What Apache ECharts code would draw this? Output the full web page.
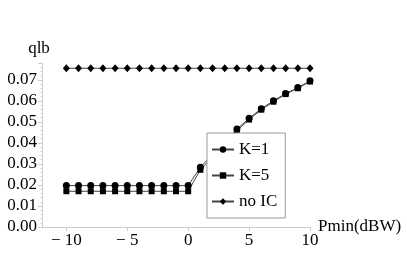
<!DOCTYPE html>
<html><head><meta charset="utf-8">
<script src="https://cdn.jsdelivr.net/npm/echarts@6/dist/echarts.min.js"></script>
<style>html,body{margin:0;padding:0;background:#fff}#c{width:407px;height:253px}</style>
</head><body><div id="c"></div>
<script>
const xValues = [-10,-9,-8,-7,-6,-5,-4,-3,-2,-1,0,1,2,3,4,5,6,7,8,9,10];
const k1 = [0.0197,0.0197,0.0197,0.0197,0.0197,0.0197,0.0197,0.0197,0.0197,0.0197,0.0197,0.0284,0.0345,0.0405,0.0466,0.0517,0.0563,0.0600,0.0635,0.0663,0.0695];
const k5 = [0.0170,0.0170,0.0170,0.0170,0.0170,0.0170,0.0170,0.0170,0.0170,0.0170,0.0170,0.0272,0.0335,0.0397,0.0458,0.0511,0.0558,0.0596,0.0632,0.0660,0.0692];
const noIC = [0.0755,0.0755,0.0755,0.0755,0.0755,0.0755,0.0755,0.0755,0.0755,0.0755,0.0755,0.0755,0.0755,0.0755,0.0755,0.0755,0.0755,0.0755,0.0755,0.0755,0.0755];
const xTicks = [-10,-5,0,5,10];
const seriesNames = ['K=1','K=5','no IC'];

const font = 'Liberation Serif';
const pair = arr => xValues.map((x,i)=>[x,arr[i]]);
const chart = echarts.init(document.getElementById('c'));
const lineStyle = {color:'#444', width:1};
chart.setOption({
  animation:false,
  grid:{left:42,right:97,top:63,bottom:26,outerBoundsMode:'none',containLabel:false},
  legend:{
    orient:'vertical', left:207, top:133, width:80,
    backgroundColor:'#fff', borderColor:'#999', borderWidth:1,
    padding:[8,8,8,4], itemGap:9, itemWidth:22, itemHeight:8,
    textStyle:{fontFamily:font,fontSize:17,color:'#000'},
    data:seriesNames
  },
  xAxis:{
    type:'value', min:-12, max:10,
    name:'Pmin(dBW)', nameLocation:'end', nameGap:8, nameMoveOverlap:false,
    nameTextStyle:{fontFamily:font,fontSize:17,color:'#000',padding:[0,0,6,0]},
    axisLine:{show:true,onZero:false,lineStyle:{color:'#ccc'}},
    axisTick:{show:true,customValues:xTicks,length:4,lineStyle:{color:'#ccc'}},
    axisLabel:{customValues:xTicks,fontFamily:font,fontSize:17,color:'#000',margin:5,
      formatter:v=>v<0?'\u2212 '+Math.abs(v):String(v)},
    splitLine:{show:false}
  },
  yAxis:{
    type:'value', min:0, max:0.078, interval:0.01,
    name:'qlb', nameLocation:'end', nameGap:6, nameMoveOverlap:false,
    nameTextStyle:{fontFamily:font,fontSize:17,color:'#000',align:'center',padding:[0,6,0,0]},
    axisLine:{show:true,onZero:false,lineStyle:{color:'#ccc'}},
    axisTick:{show:true,length:4,lineStyle:{color:'#ccc'}},
    minorTick:{show:true,splitNumber:5,length:2,lineStyle:{color:'#e0e0e0'}},
    axisLabel:{fontFamily:font,fontSize:17,color:'#000',margin:5,showMaxLabel:false,
      formatter:v=>v.toFixed(2)},
    splitLine:{show:false}
  },
  series:[
    {name:seriesNames[0],type:'line',data:pair(k1),symbol:'circle',symbolSize:7,
     itemStyle:{color:'#000'},lineStyle:lineStyle},
    {name:seriesNames[1],type:'line',data:pair(k5),symbol:'rect',symbolSize:6,
     itemStyle:{color:'#000'},lineStyle:lineStyle},
    {name:seriesNames[2],type:'line',data:pair(noIC),symbol:'diamond',symbolSize:[7,8],
     itemStyle:{color:'#000'},lineStyle:lineStyle}
  ]
});
</script></body></html>
